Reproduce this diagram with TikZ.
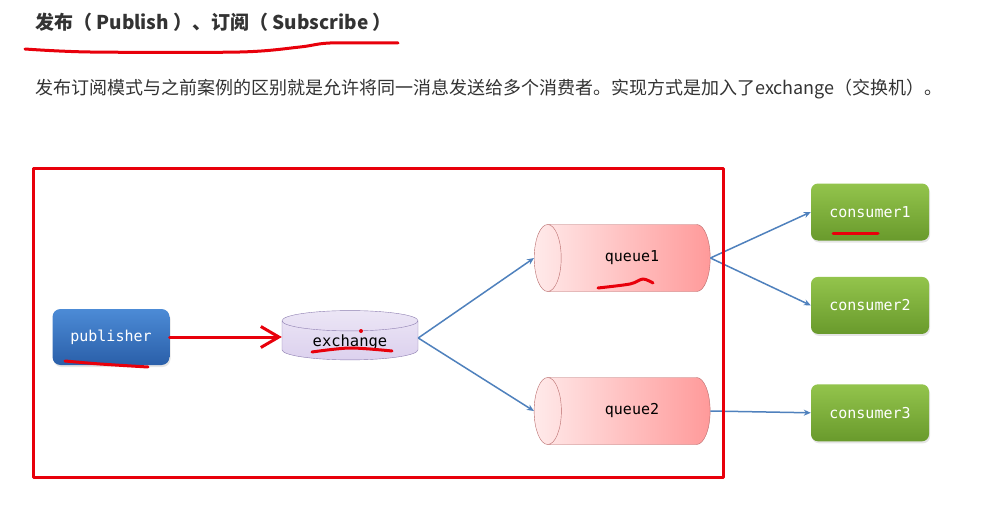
\documentclass[tikz,border=0pt]{standalone}
\usepackage{fontspec}
\setmonofont{DejaVu Sans Mono}
\newfontfamily\cjk{Noto Sans CJK SC}
\usetikzlibrary{arrows.meta,positioning,shapes.geometric,shadows}
\definecolor{pubtop}{HTML}{4C8BD6}
\definecolor{pubbot}{HTML}{2A5FA9}
\definecolor{constop}{HTML}{93C44C}
\definecolor{consbot}{HTML}{699A2C}
\definecolor{xchgfill}{HTML}{DCD1EE}
\definecolor{xchgline}{HTML}{8C7DB0}
\definecolor{qleft}{HTML}{FFEAEA}
\definecolor{qright}{HTML}{FF9A9A}
\definecolor{qline}{HTML}{B86A6A}
\definecolor{arrblue}{HTML}{4F81BD}
\definecolor{penred}{HTML}{E8000B}
\definecolor{txtgray}{HTML}{333333}

\begin{document}
\begin{tikzpicture}[x=1pt,y=-1pt,
  pub/.style={rounded corners=8pt,top color=pubtop,bottom color=pubbot,text=white,
    font=\ttfamily\fontsize{15}{18}\selectfont,minimum width=117pt,minimum height=56pt,
    drop shadow={shadow xshift=1pt,shadow yshift=-2pt,opacity=.2}},
  cons/.style={rounded corners=7pt,top color=constop,bottom color=consbot,text=white,
    font=\ttfamily\fontsize{15}{18}\selectfont,minimum width=118pt,minimum height=57pt,
    drop shadow={shadow xshift=1pt,shadow yshift=-2pt,opacity=.2}},
  xchg/.style={cylinder,shape border rotate=90,draw=xchgline,top color=xchgfill!55!white,
    bottom color=xchgfill,aspect=0.25,minimum width=136pt,minimum height=49pt,
    font=\ttfamily\fontsize{15.5}{18}\selectfont},
  queue/.style={cylinder,shape border rotate=180,draw=qline,left color=qleft,
    right color=qright,aspect=1.3,minimum width=67pt,minimum height=176pt,
    font=\ttfamily\fontsize{15}{18}\selectfont},
  arr/.style={-{Stealth[length=7pt,width=6pt]},line width=1.5pt,arrblue},
  redpen/.style={penred,line width=3pt,line cap=round,line join=round}]
  \useasboundingbox[fill=white] (0,0) rectangle (989,519);
  % heading and intro line
  \node[anchor=base west,inner sep=0pt,text=txtgray,font=\cjk\bfseries\fontsize{19}{22}\selectfont]
    (title) at (35,30) {发布（ Publish ）、订阅（ Subscribe ）};
  \node[anchor=base west,inner sep=0pt,text=txtgray,font=\cjk\fontsize{18}{22}\selectfont]
    (intro) at (35,95) {发布订阅模式与之前案例的区别就是允许将同一消息发送给多个消费者。实现方式是加入了exchange（交换机）。};
  % diagram
  \node[pub] (publisher) at (111,337) {publisher};
  \node[xchg] (exchange) at (350,342) {exchange};
  \node[queue] (queue1) at (632,258) {queue1};
  \node[queue] (queue2) at (632,411) {queue2};
  \node[cons] (consumer1) at (870,212) {consumer1};
  \node[cons,below=36pt of consumer1] (consumer2) {consumer2};
  \node[cons,below=50pt of consumer2] (consumer3) {consumer3};
  \coordinate (xout) at ([yshift=4pt]exchange.east);
  \draw[arr] (xout) -- (queue1.west);
  \draw[arr] (xout) -- (queue2.west);
  \draw[arr] (queue1.east) -- (consumer1.west);
  \draw[arr] (queue1.east) -- (consumer2.west);
  \draw[arr] (queue2.east) -- (consumer3.west);
  % red pen marks
  \draw[redpen] (33,168) rectangle (723,477);
  \draw[redpen,-{Straight Barb[length=18pt,width=21pt,line width=3pt]}] (publisher.east) -- (publisher.east -| exchange.west);
  \draw[redpen] plot[smooth] coordinates {(25,49) (90,52) (240,52) (300,47) (330,43) (398,43)};
  \draw[redpen] plot[smooth] coordinates {(65,361) (100,364) (148,367)};
  \draw[redpen] plot[smooth] coordinates {(312,352) (350,348) (392,351)};
  \fill[penred] (361,331) circle (2pt);
  \draw[redpen] plot[smooth] coordinates {(598,288) (630,284) (643,279) (653,283)};
  \draw[redpen] (833,233) -- (878,233);
\end{tikzpicture}
\end{document}
